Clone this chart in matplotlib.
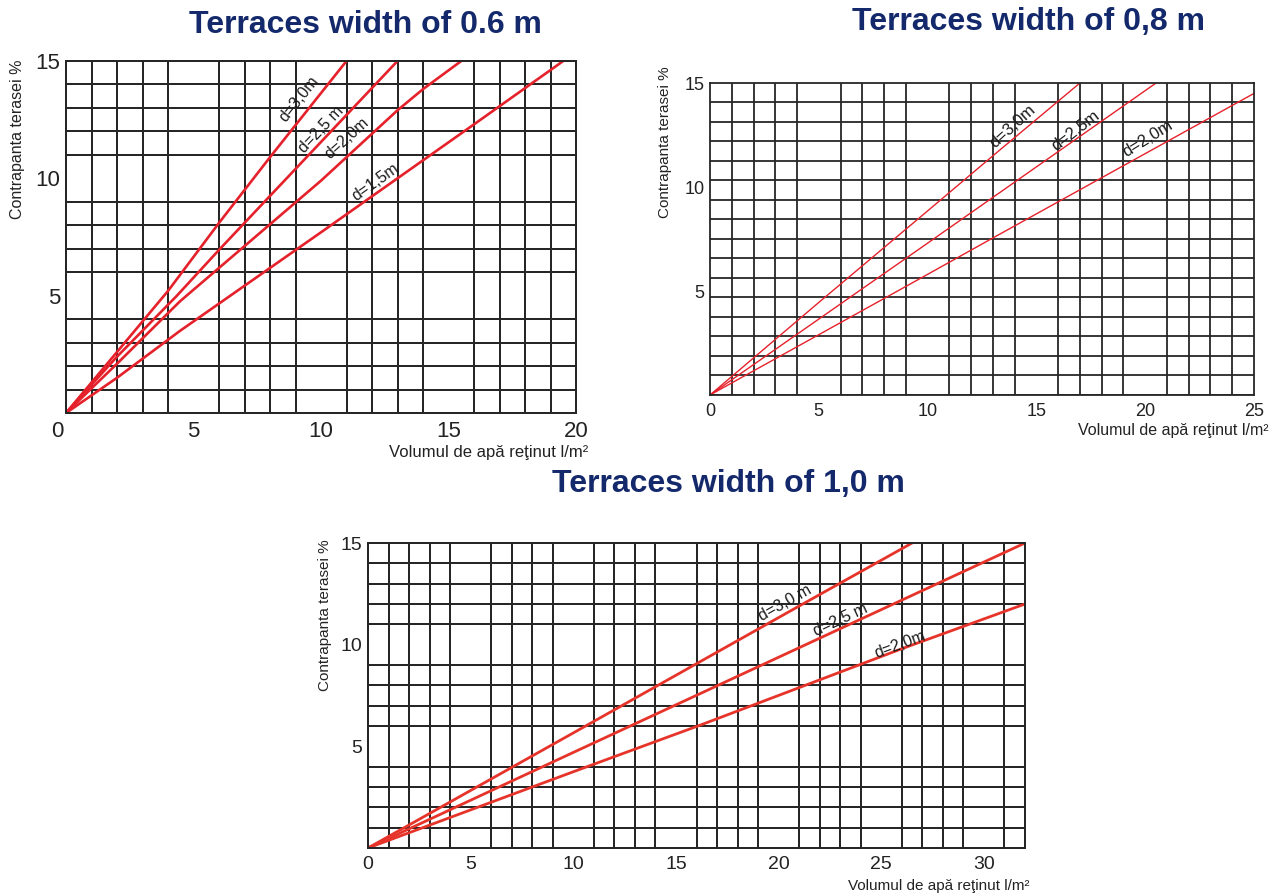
import numpy as np
import matplotlib
matplotlib.use("Agg")
import matplotlib.pyplot as plt
from matplotlib import font_manager
from matplotlib.transforms import ScaledTranslation

# ============================================================
# DATE
# ============================================================

# latime terasa 0.6 m
x06_d30=[0,2,4,6,8,11]
y06_d30=[0,2.6,5.2,8.1,10.9,15.0]
x06_d25=[0,2,4.35,6,9,13]
y06_d25=[0,2.4,5.0,6.95,10.4,15.0]
x06_d20=[0,2,4.47,10,13,14,15.5]
y06_d20=[0,2.1,4.76,9.9,12.9,13.8,15.0]
x06_d15=[0,2,4.47,10,13,16,19.5]
y06_d15=[0,1.5,3.5,7.7,10.0,12.3,15.0]

# latime terasa 0.8 m
x08_d30=[0,5,10,13,17]
y08_d30=[0,4.45,8.85,11.5,15.0]
x08_d25=[0,5,10,13,20.5]
y08_d25=[0,3.65,7.3,9.5,15.0]
x08_d20=[0,5,10,13,25]
y08_d20=[0,2.9,5.8,7.55,14.5]

# latime terasa 1.0 m
x10_d30=[0,10,21,26.5]
y10_d30=[0,5.66,11.9,15.0]
x10_d25=[0,10,21,32]
y10_d25=[0,4.7,9.85,15.0]
x10_d20=[0,10,16.2,26,32]
y10_d20=[0,3.75,6.05,9.8,12.0]

titluri=["Terraces width of 0.6 m","Terraces width of 0,8 m","Terraces width of 1,0 m"]
ylabel="Contrapanta terasei %"
xlabel="Volumul de apă reţinut l/m²"


# ============================================================
# STIL
# ============================================================

W,H=1269,896
GRILA="#262626"
TITLU="#14296b"

def are_font(nume):
    try:
        font_manager.findfont(nume, fallback_to_default=False)
        return True
    except Exception:
        return False

FONT="Liberation Sans" if are_font("Liberation Sans") else "DejaVu Sans"
FONT_N="Liberation Sans Narrow" if are_font("Liberation Sans Narrow") else FONT

plt.rcParams["font.family"]=[FONT,"DejaVu Sans"]


def pozitie(st,sus,dr,jos):
    return [st/W, 1-jos/H, (dr-st)/W, (jos-sus)/H]


def pregateste(ax, xmax, ygrid, tick_fs, lw_grid, font):
    ax.set_xlim(0,xmax)
    ax.set_ylim(0,15)
    ax.set_xticks(np.arange(0,xmax+1,5))
    ax.set_yticks([5,10,15])
    ax.set_xticks(np.arange(0,xmax+1,1), minor=True)
    ax.set_yticks(ygrid, minor=True)
    ax.grid(True, which="minor", color=GRILA, lw=lw_grid)
    ax.grid(False, which="major")
    ax.tick_params(which="both", length=0)
    ax.tick_params(axis="x", pad=6, labelsize=tick_fs, colors="#222222")
    ax.tick_params(axis="y", pad=4, labelsize=tick_fs, colors="#222222")
    for lab in ax.get_xticklabels()+ax.get_yticklabels():
        lab.set_family([font,"DejaVu Sans"])
    for s in ax.spines.values():
        s.set_color(GRILA)
        s.set_linewidth(lw_grid)
    ax.set_axisbelow(True)


def eticheta(ax, x, y, panta, text, fs, font):
    ax.text(x, y, text, rotation=np.degrees(np.arctan(panta)),
            transform_rotates_text=True, rotation_mode="anchor",
            ha="center", va="center", fontsize=fs, color="#1a1a1a",
            family=[font,"DejaVu Sans"])


fig=plt.figure(figsize=(W/100,H/100), dpi=100)


# ============================================================
# 1) 0.6 m
# ============================================================

ax1=fig.add_axes(pozitie(66,61,576,413))
pregateste(ax1, 20, np.arange(0,16,1), 16, 1.44, FONT)
for xs,ys in [(x06_d30,y06_d30),(x06_d25,y06_d25),(x06_d20,y06_d20),(x06_d15,y06_d15)]:
    ax1.plot(xs, ys, color="#e5212b", lw=1.9, solid_capstyle="butt")
ax1.get_xticklabels()[0].set_transform(
    ax1.get_xaxis_text1_transform(6)[0]+ScaledTranslation(-9/100,0,fig.dpi_scale_trans))
eticheta(ax1, 9.15, 13.4, 1.36, "d=3,0m", 11.5, FONT)
eticheta(ax1, 10.0, 12.1, 1.15, "d=2,5 m", 11.5, FONT)
eticheta(ax1, 11.0, 11.7, 0.98, "d=2,0m", 11.5, FONT)
eticheta(ax1, 12.15, 9.85, 0.77, "d=1,5m", 11.5, FONT)

fig.text(365/W, 1-25/H, titluri[0], ha="center", va="center",
         fontsize=23, fontweight="bold", color=TITLU)
fig.text(18/W, 1-139/H, ylabel, rotation=90, ha="center", va="center",
         fontsize=11.5, color="#222222")
fig.text(588/W, 1-453/H, xlabel, ha="right", va="center",
         fontsize=12, color="#222222")


# ============================================================
# 2) 0.8 m
# ============================================================

ax2=fig.add_axes(pozitie(710,83,1254,395))
pregateste(ax2, 25, np.linspace(0,15,17), 13, 1.3, FONT)
for xs,ys in [(x08_d30,y08_d30),(x08_d25,y08_d25),(x08_d20,y08_d20)]:
    ax2.plot(xs, ys, color="#e5212b", lw=1.0)
eticheta(ax2, 13.9, 12.9, 0.95, "d=3,0m", 12, FONT)
eticheta(ax2, 16.8, 12.7, 0.80, "d=2,5m", 12, FONT)
eticheta(ax2, 20.1, 12.3, 0.65, "d=2,0m", 12, FONT)

fig.text(1028/W, 1-22/H, titluri[1], ha="center", va="center",
         fontsize=23, fontweight="bold", color=TITLU)
fig.text(665/W, 1-142/H, ylabel, rotation=90, ha="center", va="center",
         fontsize=11, color="#222222")
fig.text(1268/W, 1-430/H, xlabel, ha="right", va="center",
         fontsize=11.5, color="#222222")


# ============================================================
# 3) 1.0 m
# ============================================================

ax3=fig.add_axes(pozitie(368,543,1025,848))
pregateste(ax3, 32, np.arange(0,16,1), 14, 1.44, FONT_N)
for xs,ys in [(x10_d30,y10_d30),(x10_d25,y10_d25),(x10_d20,y10_d20)]:
    ax3.plot(xs, ys, color="#e6342a", lw=2.0)
eticheta(ax3, 20.3, 12.05, 0.57, "d=3,0 m", 11.5, FONT_N)
eticheta(ax3, 23.0, 11.2, 0.47, "d=2,5 m", 11.5, FONT_N)
eticheta(ax3, 25.9, 10.0, 0.375, "d=2,0m", 11.5, FONT_N)

fig.text(728/W, 1-484/H, titluri[2], ha="center", va="center",
         fontsize=23, fontweight="bold", color=TITLU)
fig.text(325/W, 1-615/H, ylabel, rotation=90, ha="center", va="center",
         fontsize=11, color="#222222", family=[FONT_N,"DejaVu Sans"])
fig.text(1030/W, 1-886/H, xlabel, ha="right", va="center",
         fontsize=11, color="#222222", family=[FONT_N,"DejaVu Sans"])

fig.savefig("out.png", dpi=100)
